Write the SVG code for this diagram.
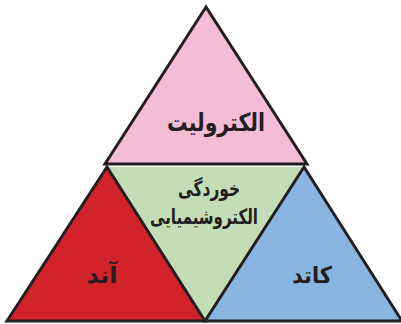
<svg xmlns="http://www.w3.org/2000/svg" width="401" height="324" viewBox="0 0 401 324">
<style>
.tri{stroke:#231f20;stroke-width:3;stroke-linejoin:miter}
.lbl{font-family:"DejaVu Sans",sans-serif;font-weight:bold;fill:#231f20;text-anchor:middle}
</style>
<rect width="401" height="324" fill="#ffffff"/>
<g id="electrolyte">
<polygon class="tri" points="206,7 105,164 307,164" fill="#f5bcd6"/>
<text class="lbl" x="216" y="131" font-size="25" textLength="98" lengthAdjust="spacingAndGlyphs">الکترولیت</text>
</g>
<g id="corrosion">
<polygon points="108,167 303,167 205,321" fill="#c3ddb6"/>
<text class="lbl" x="209" y="196" font-size="21" textLength="62" lengthAdjust="spacingAndGlyphs">خوردگی</text>
<text class="lbl" x="204" y="224" font-size="21" textLength="108" lengthAdjust="spacingAndGlyphs">الکتروشیمیایی</text>
</g>
<g id="anode">
<polygon class="tri" points="107,167 7,321 205,321" fill="#d2232a"/>
<text class="lbl" x="102" y="283" font-size="23" textLength="31" lengthAdjust="spacingAndGlyphs">آند</text>
</g>
<g id="cathode">
<polygon class="tri" points="304,167 205,321 402,321" fill="#89b5e0"/>
<text class="lbl" x="312" y="283" font-size="23" textLength="40" lengthAdjust="spacingAndGlyphs">کاتد</text>
</g>
<g id="connectors"></g>
</svg>
